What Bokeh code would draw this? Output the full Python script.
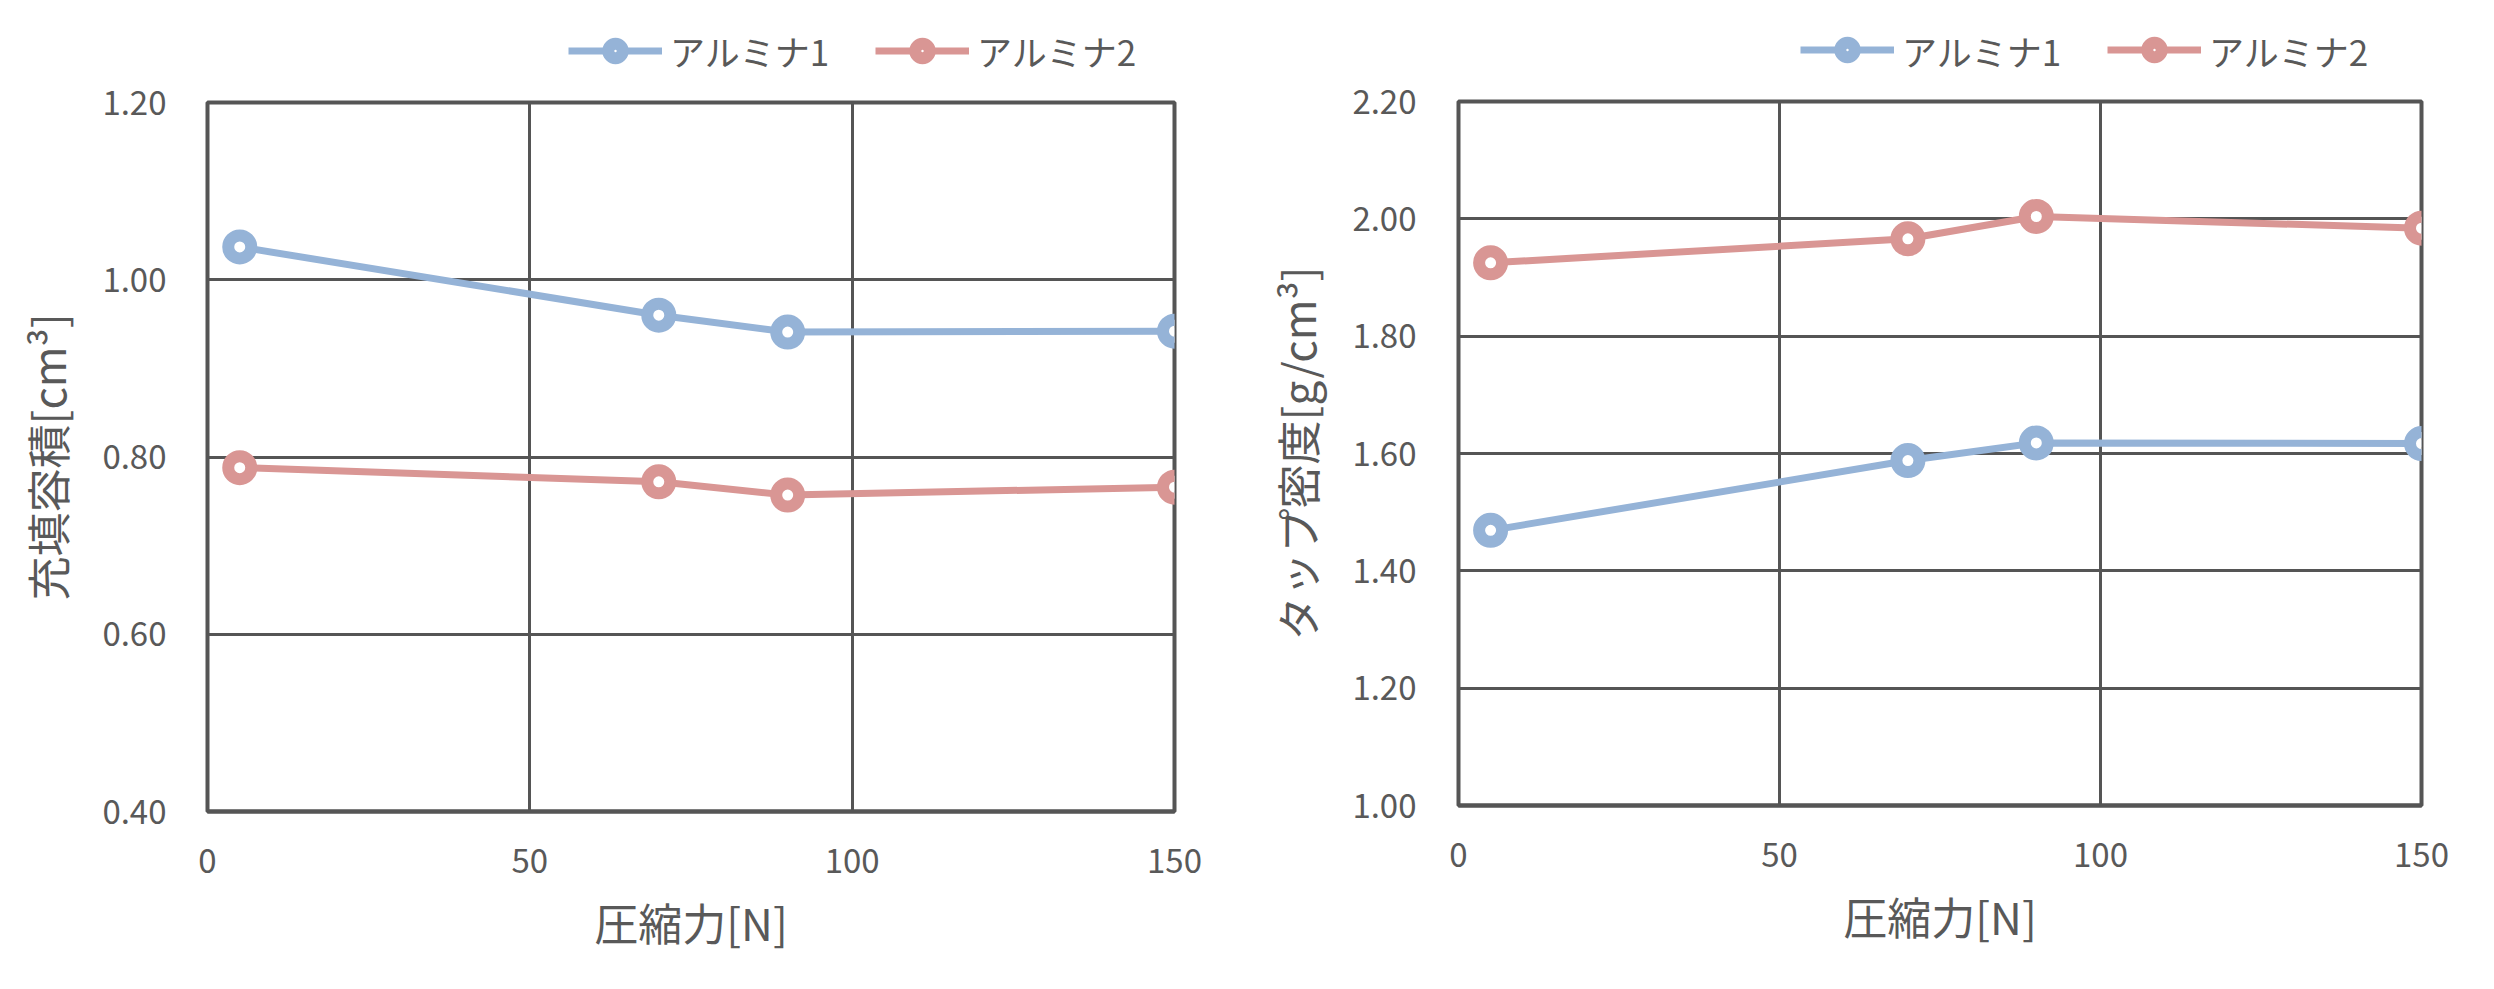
from bokeh.plotting import figure
from bokeh.layouts import row, column
from bokeh.models import Range1d, FixedTicker, NumeralTickFormatter, Legend, LegendItem
from bokeh.embed import file_html
from bokeh.resources import INLINE

force = [5, 70, 90, 150]
vol_a1 = [1.037, 0.960, 0.941, 0.942]
vol_a2 = [0.788, 0.772, 0.757, 0.766]
tap_a1 = [1.469, 1.588, 1.618, 1.617]
tap_a2 = [1.925, 1.966, 2.004, 1.984]
series_names = ["アルミナ1", "アルミナ2"]
colors = ["#95B3D7", "#D99694"]
x_ticks = [0, 50, 100, 150]
vol_ticks = [0.4, 0.6, 0.8, 1.0, 1.2]
tap_ticks = [1.0, 1.2, 1.4, 1.6, 1.8, 2.0, 2.2]
x_label = "圧縮力[N]"
vol_label = "充填容積[cm³]"
tap_label = "タップ密度[g/cm³]"

FONT = "Noto Sans CJK JP"
TXT = "#595959"
GRID = "#555555"


def add_series(p, ys):
    items = []
    for name, y, c in zip(series_names, ys, colors):
        l = p.line(force, y, line_color=c, line_width=7)
        s = p.scatter(force, y, size=23, line_color=c, line_width=12, fill_color="white")
        items.append(LegendItem(label=name, renderers=[l, s]))
    return items


def make(width, leg_h, ys, yticks, ylabel, borders, ystand, tstand, leg_margin):
    bl, br, bt, bb = borders
    # legend strip above the chart (its frame is aligned with the chart's frame)
    lg = figure(width=width, height=leg_h, output_backend="svg", toolbar_location=None,
                x_range=Range1d(0, 150), y_range=Range1d(-20, -19),
                x_axis_location=None, y_axis_location=None,
                min_border_left=0, min_border_right=0, min_border_top=23, min_border_bottom=0)
    lg.grid.visible = False
    lg.outline_line_color = None
    items = add_series(lg, ys)
    leg = Legend(items=items, orientation="horizontal", location="left",
                 label_text_font=FONT, label_text_font_size="35px", label_text_color=TXT,
                 glyph_width=94, glyph_height=36, label_standoff=8, spacing=46,
                 border_line_color=None, background_fill_alpha=0, padding=0,
                 margin=leg_margin)
    lg.add_layout(leg, "center")

    p = figure(width=width, height=973 - leg_h, output_backend="svg", toolbar_location=None,
               x_range=Range1d(0, 150), y_range=Range1d(yticks[0], yticks[-1]),
               min_border_left=bl, min_border_right=br, min_border_top=bt, min_border_bottom=bb)
    p.background_fill_color = "white"
    p.border_fill_color = "white"
    p.outline_line_color = GRID
    p.outline_line_width = 4
    for ax in (p.xaxis[0], p.yaxis[0]):
        ax.major_tick_line_color = None
        ax.minor_tick_line_color = None
        ax.major_label_text_font = FONT
        ax.major_label_text_font_size = "33px"
        ax.major_label_text_color = TXT
        ax.axis_label_text_font = FONT
        ax.axis_label_text_font_size = "44px"
        ax.axis_label_text_font_style = "normal"
        ax.axis_label_text_color = TXT
    p.xaxis.ticker = FixedTicker(ticks=x_ticks)
    p.yaxis.ticker = FixedTicker(ticks=yticks)
    p.yaxis.formatter = NumeralTickFormatter(format="0.00")
    p.xaxis.axis_line_color = GRID
    p.xaxis.axis_line_width = 4
    p.yaxis.axis_line_color = None
    p.xaxis.major_label_standoff = 31
    p.xaxis.axis_label_standoff = 14
    p.yaxis.major_label_standoff = tstand
    p.yaxis.axis_label_standoff = ystand
    p.xaxis.axis_label = x_label
    p.yaxis.axis_label = ylabel
    p.xgrid.ticker = FixedTicker(ticks=x_ticks)
    p.ygrid.ticker = FixedTicker(ticks=yticks)
    for g in (p.xgrid[0], p.ygrid[0]):
        g.grid_line_color = GRID
        g.grid_line_width = 3
    add_series(p, ys)
    return column(lg, p, spacing=0)


c1 = make(1240, 77, [vol_a1, vol_a2], vol_ticks, vol_label, (207, 66, 25, 162), 20, 35, 361)
c2 = make(1238, 76, [tap_a1, tap_a2], tap_ticks, tap_label, (218, 57, 25, 168), 20, 36, 342)

layout = row(c1, c2, spacing=0)
open("out.html", "w").write(file_html(layout, INLINE))
